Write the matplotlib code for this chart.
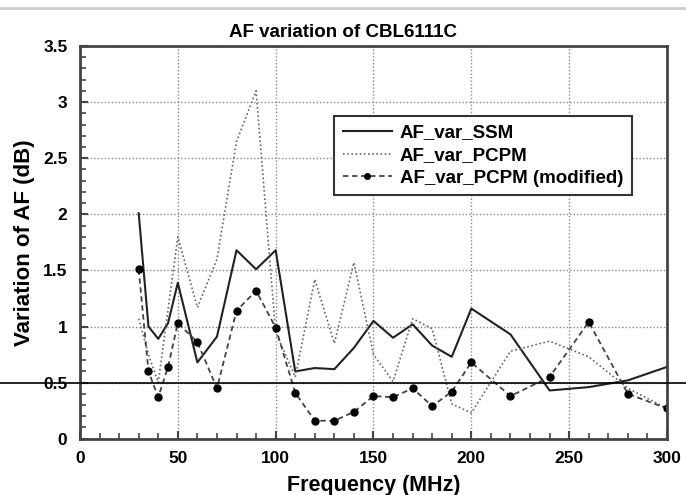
import matplotlib
matplotlib.use('Agg')
from matplotlib import pyplot as plt
from matplotlib.ticker import MultipleLocator
import matplotlib.transforms as mtransforms

plt.rcParams['font.family'] = ['Liberation Sans', 'DejaVu Sans']

# frequency points (MHz)
freq = [30, 35, 40, 45, 50, 60, 70, 80, 90, 100, 110, 120, 130, 140, 150,
        160, 170, 180, 190, 200, 220, 240, 260, 280, 300]

# AF variation (dB)
af_ssm = [2.01, 1.00, 0.89, 1.03, 1.39, 0.68, 0.91, 1.68, 1.51, 1.68, 0.60, 0.63, 0.62,
          0.81, 1.05, 0.90, 1.02, 0.83, 0.73, 1.16, 0.93, 0.43, 0.46, 0.52, 0.64]
af_pcpm = [1.07, 0.75, 0.50, 1.15, 1.80, 1.17, 1.60, 2.65, 3.10, 0.95, 0.55, 1.42, 0.85,
           1.57, 0.75, 0.51, 1.07, 0.98, 0.31, 0.23, 0.78, 0.87, 0.73, 0.45, 0.27]
af_pcpm_mod = [1.51, 0.60, 0.37, 0.64, 1.03, 0.86, 0.45, 1.14, 1.32, 0.99, 0.41, 0.16, 0.16,
               0.24, 0.38, 0.37, 0.45, 0.29, 0.42, 0.68, 0.38, 0.55, 1.04, 0.40, 0.27]

ref_level = 0.5

fig = plt.figure(figsize=(6.86, 4.95), dpi=100)
ax = fig.add_axes([0.1166, 0.1137, 0.8557, 0.7933])

ax.plot(freq, af_ssm, '-', color='#222222', lw=1.5, label='AF_var_SSM')
ax.plot(freq, af_pcpm, linestyle=(0, (1, 1.5)), color='#666666', lw=1.2, label='AF_var_PCPM')
ax.plot(freq, af_pcpm_mod, linestyle=(0, (3, 2)), color='#444444', lw=1.3, marker='o',
        markersize=5, markerfacecolor='black', markeredgecolor='black',
        label='AF_var_PCPM (modified)')

# reference line that runs across the whole picture
trans = mtransforms.blended_transform_factory(ax.transAxes, ax.transData)
ax.plot([-0.14, 1.04], [ref_level, ref_level], color='black', lw=1.2,
        transform=trans, clip_on=False, zorder=5)

ax.set_xlim(0, 300)
ax.set_ylim(0, 3.5)
ax.xaxis.set_minor_locator(MultipleLocator(10))
ax.yaxis.set_minor_locator(MultipleLocator(0.1))
ax.tick_params(which='both', direction='in', top=False, right=False, color='#444444')
ax.tick_params(which='major', length=6, width=1.5, labelsize=12.5, pad=9)
ax.tick_params(which='minor', length=4, width=1.2)
ax.set_yticks([0, 0.5, 1, 1.5, 2, 2.5, 3, 3.5])
ax.set_yticklabels(['0', '0.5', '1', '1.5', '2', '2.5', '3', '3.5'], fontweight='bold')
ax.set_xticks([0, 50, 100, 150, 200, 250, 300])
ax.set_xticklabels(['0', '50', '100', '150', '200', '250', '300'], fontweight='bold')

ax.grid(True, which='major', linestyle=(0, (1, 1.5)), color='#888888', lw=1)
for sp in ax.spines.values():
    sp.set_linewidth(2)
    sp.set_color('#444444')

fig.text(0.5, 0.935, 'AF variation of CBL6111C', fontsize=13.5, fontweight='bold',
         ha='center', va='center')
ax.set_xlabel('Frequency (MHz)', fontsize=15.5, fontweight='bold', labelpad=6)
ax.set_ylabel('Variation of AF (dB)', fontsize=16, fontweight='bold', labelpad=6)

leg = ax.legend(loc='upper right', bbox_to_anchor=(0.94, 0.822), fancybox=False,
                edgecolor='#333333', framealpha=1, prop={'weight': 'bold', 'size': 13.5},
                handlelength=2.6, handletextpad=0.45, borderpad=0.45, labelspacing=0.3,
                borderaxespad=0, markerscale=0.8)
leg.get_frame().set_linewidth(1.5)

# gray rule along the top of the page
fig.add_artist(plt.Line2D([0, 1], [0.984, 0.984], color='#cccccc', lw=2,
                          transform=fig.transFigure))

fig.savefig('out.png', dpi=100)
